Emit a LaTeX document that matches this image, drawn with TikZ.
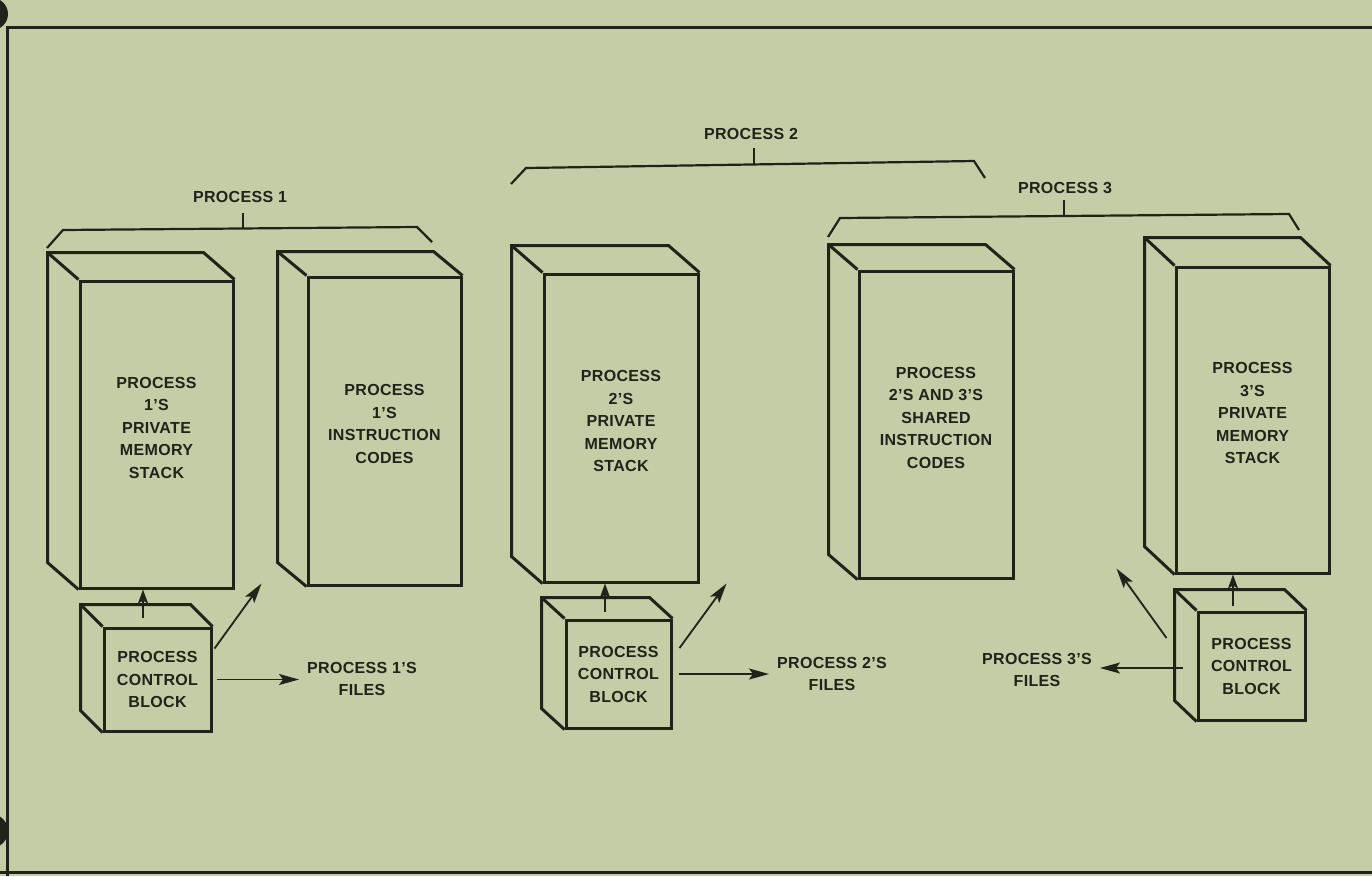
\documentclass[tikz,border=0pt]{standalone}
\usepackage{fontspec}
\setmainfont{Liberation Sans}
\usetikzlibrary{arrows.meta,calc}
\definecolor{paper}{RGB}{196,205,166}
\definecolor{ink}{RGB}{30,36,26}
\newcommand\cuboidsides[3]{%
  \draw[boxline] (#1.south west) -- ++(#2,#3) -- ($(#1.north west)+(#2,#3)$) -- ($(#1.north east)+(#2,#3)$) -- (#1.north east);
  \draw[boxline] (#1.north west) -- ++(#2,#3);
}
\tikzset{
  boxline/.style={draw=ink, line width=3pt, line join=miter},
  face/.style={draw=ink, line width=3pt, inner sep=0pt, minimum width=#1},
  lbl/.style={font=\bfseries\fontsize{16}{22.5}\selectfont\addfontfeatures{LetterSpace=2}, text=ink, align=center, inner sep=0pt},
  filelbl/.style={font=\bfseries\fontsize{16}{22.5}\selectfont\addfontfeatures{LetterSpace=2}, text=ink, align=center, inner sep=8pt},
  arr/.style={draw=ink, line width=1.8pt, -{Stealth[length=20pt,width=11pt,inset=4pt]}},
  uparr/.style={draw=ink, line width=1.8pt, -{Stealth[length=14pt,width=10pt,inset=3pt]}},
  brace/.style={draw=ink, line width=2.2pt, line join=miter},
  frame/.style={draw=ink, line width=3pt},
}
\begin{document}
\begin{tikzpicture}[x=1pt,y=-1pt]
\useasboundingbox (0,0) rectangle (1372,876);
\clip (0,0) rectangle (1372,876);
\fill[paper] (0,0) rectangle (1372,876);

% frame and binder holes
\draw[frame] (7,876) -- (7,27) -- (1372,27);
\draw[frame] (0,872) -- (1372,872);
\fill[ink] (-8,14) circle (16);
\fill[ink] (-9,831) circle (17);

% ---------- Process 1 ----------
\node[face=153, minimum height=307] (s1) at (156.5,434.5) {};
\cuboidsides{s1}{-31}{-27}
\node[lbl, yshift=7pt] (s1t) at (s1.center) {PROCESS\\1'S\\PRIVATE\\MEMORY\\STACK};

\node[face=153, minimum height=308] (c1) at (384.5,431) {};
\cuboidsides{c1}{-29}{-24}
\node[lbl, yshift=7pt] (c1t) at (c1.center) {PROCESS\\1'S\\INSTRUCTION\\CODES};

\node[face=107, minimum height=103, lbl] (pcb1) at (157.5,679.5) {PROCESS\\CONTROL\\BLOCK};
\cuboidsides{pcb1}{-22}{-22}

\node[filelbl] (f1) at (362,679) {PROCESS 1'S\\FILES};

% ---------- Process 2 ----------
\node[face=154, minimum height=308] (s2) at (621,428) {};
\cuboidsides{s2}{-31}{-27}
\node[lbl, yshift=7pt] (s2t) at (s2.center) {PROCESS\\2'S\\PRIVATE\\MEMORY\\STACK};

\node[face=105, minimum height=108, lbl] (pcb2) at (618.5,674) {PROCESS\\CONTROL\\BLOCK};
\cuboidsides{pcb2}{-23}{-21}

\node[filelbl] (f2) at (832,674) {PROCESS 2'S\\FILES};

% ---------- Shared codes ----------
\node[face=154, minimum height=307] (sh) at (936,424.5) {};
\cuboidsides{sh}{-29}{-25}
\node[lbl, yshift=7pt] (sht) at (sh.center) {PROCESS\\2'S AND 3'S\\SHARED\\INSTRUCTION\\CODES};

% ---------- Process 3 ----------
\node[face=153, minimum height=306] (s3) at (1252.5,420) {};
\cuboidsides{s3}{-30}{-28}
\node[lbl, yshift=7pt] (s3t) at (s3.center) {PROCESS\\3'S\\PRIVATE\\MEMORY\\STACK};

\node[face=107, minimum height=108, lbl] (pcb3) at (1251.5,666) {PROCESS\\CONTROL\\BLOCK};
\cuboidsides{pcb3}{-22}{-21}

\node[filelbl] (f3) at (1037,670) {PROCESS 3'S\\FILES};

% ---------- brackets ----------
\node[lbl] (p1) at (240,197) {PROCESS 1};
\draw[brace] (47,248) -- (63,230) -- (417,227) -- (432,242);
\draw[brace] (243,228) -- (243,213);

\node[lbl] (p2) at (751,134) {PROCESS 2};
\draw[brace] (511,184) -- (526,168) -- (974,161) -- (985,178);
\draw[brace] (754,164) -- (754,148);

\node[lbl] (p3) at (1065,188) {PROCESS 3};
\draw[brace] (828,237) -- (840,218) -- (1289,214) -- (1299,230);
\draw[brace] (1064,216) -- (1064,200);

% ---------- connectors ----------
\draw[uparr] ($(pcb1.north)+(-14.5,-9)$) -- ($(s1.south)+(-13.5,0)$);
\draw[arr] ($(pcb1.east)+(2,-31)$) -- ($(c1.south west)+(-45,-3)$);
\draw[arr] ($(pcb1.east)+(4,0)$) -- (f1.west |- pcb1.east);

\draw[uparr] ($(pcb2.north)+(-13.5,-7)$) -- ($(s2.south)+(-16,0)$);
\draw[arr] ($(pcb2.east)+(7,-26)$) -- ($(sh.south west)+(-131,4)$);
\draw[arr] ($(pcb2.east)+(6,0)$) -- (f2.west |- pcb2.east);

\draw[uparr] ($(pcb3.north)+(-18.5,-5)$) -- ($(s3.south)+(-19.5,0)$);
\draw[arr] ($(pcb3.west)+(-30,-28)$) -- ($(s3.south west)+(-58,-6)$);
\coordinate (p3fs) at ($(pcb3.west)+(-14,2)$);
\draw[arr] (p3fs) -- (f3.east |- p3fs);
\end{tikzpicture}
\end{document}
